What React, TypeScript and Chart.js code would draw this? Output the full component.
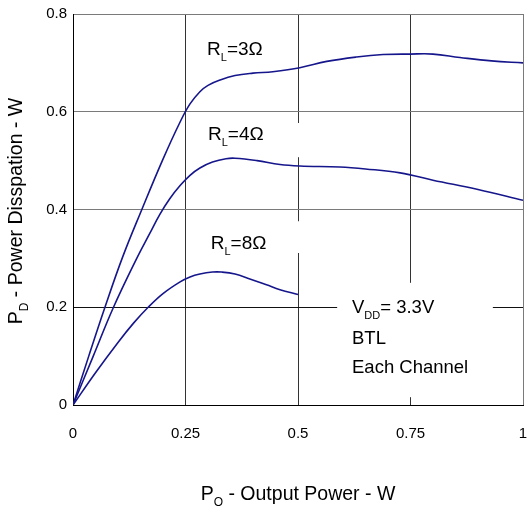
import React, { useEffect, useRef } from "react";
import { Chart, registerables } from "chart.js";

Chart.register(...registerables);

// ---- data ----
const xTickValues = [0, 0.25, 0.5, 0.75, 1];
const xTickLabels = ["0", "0.25", "0.5", "0.75", "1"];
const yTickValues = [0, 0.2, 0.4, 0.6, 0.8];
const yTickLabels = ["0", "0.2", "0.4", "0.6", "0.8"];

const po3 = [0, 0.035, 0.071, 0.11, 0.153, 0.2, 0.238, 0.26, 0.282, 0.3, 0.327, 0.36, 0.4, 0.444, 0.504, 0.564, 0.63, 0.689, 0.749, 0.8, 0.86, 0.93, 1.0];
const pd3 = [0, 0.1, 0.2, 0.302, 0.4, 0.503, 0.579, 0.616, 0.641, 0.654, 0.665, 0.674, 0.679, 0.682, 0.69, 0.703, 0.712, 0.717, 0.718, 0.718, 0.711, 0.704, 0.7];

const po4 = [0, 0.045, 0.089, 0.14, 0.17, 0.193, 0.215, 0.238, 0.26, 0.282, 0.31, 0.34, 0.36, 0.409, 0.46, 0.504, 0.593, 0.65, 0.727, 0.8, 0.9, 1.0];
const pd4 = [0, 0.1, 0.198, 0.297, 0.35, 0.39, 0.422, 0.449, 0.47, 0.485, 0.497, 0.504, 0.505, 0.5, 0.492, 0.489, 0.487, 0.483, 0.475, 0.46, 0.441, 0.419];

const po8 = [0, 0.05, 0.1, 0.135, 0.167, 0.2, 0.238, 0.26, 0.282, 0.31, 0.33, 0.36, 0.393, 0.43, 0.46, 0.5];
const pd8 = [0, 0.066, 0.128, 0.168, 0.2, 0.228, 0.252, 0.262, 0.268, 0.272, 0.272, 0.268, 0.258, 0.246, 0.236, 0.226];

const seriesLabels = ["RL=3Ω", "RL=4Ω", "RL=8Ω"];
const xTitle = [["P", false], ["O", true], [" - Output Power - W", false]] as [string, boolean][];
const yTitle = [["P", false], ["D", true], [" - Power Disspation - W", false]] as [string, boolean][];

const FONT = "'Liberation Sans', Arial, sans-serif";
const LINE = "#16168c";

function toPts(xs: number[], ys: number[]) {
  return xs.map((x, i) => ({ x, y: ys[i] }));
}

function richWidth(ctx: CanvasRenderingContext2D, parts: [string, boolean][], size: number) {
  let w = 0;
  for (const [t, sub] of parts) {
    ctx.font = `${sub ? Math.round(size * 0.6) : size}px ${FONT}`;
    w += ctx.measureText(t).width;
  }
  return w;
}

function drawRich(ctx: CanvasRenderingContext2D, parts: [string, boolean][], x: number, y: number, size: number, align: "left" | "center") {
  const w = richWidth(ctx, parts, size);
  let cx = align === "center" ? x - w / 2 : x;
  ctx.textBaseline = "middle";
  ctx.textAlign = "left";
  ctx.fillStyle = "#000";
  for (const [t, sub] of parts) {
    ctx.font = `${sub ? Math.round(size * 0.6) : size}px ${FONT}`;
    ctx.fillText(t, cx, sub ? y + size * 0.4 : y);
    cx += ctx.measureText(t).width;
  }
}

const decorPlugin = {
  id: "decor",
  beforeDatasetsDraw(chart: any) {
    const { ctx, scales } = chart;
    const xs = scales.x, ys = scales.y;
    const boxes = [
      [0.27, 0.577, 0.53, 0.507],
      [0.27, 0.376, 0.53, 0.311],
      [0.587, 0.25, 0.933, 0.016],
    ];
    ctx.save();
    ctx.fillStyle = "#fff";
    for (const [x0, y0, x1, y1] of boxes) {
      const px0 = xs.getPixelForValue(x0), px1 = xs.getPixelForValue(x1);
      const py0 = ys.getPixelForValue(y0), py1 = ys.getPixelForValue(y1);
      ctx.fillRect(px0, py0, px1 - px0, py1 - py0);
    }
    ctx.restore();
  },
  afterDraw(chart: any) {
    const { ctx, scales } = chart;
    const xs = scales.x, ys = scales.y;
    ctx.save();
    const lab = (n: string): [string, boolean][] => [["R", false], ["L", true], ["=" + n, false]];
    const size = 19;
    drawRich(ctx, lab("3Ω"), xs.getPixelForValue(0.298), ys.getPixelForValue(0.726), size, "left");
    drawRich(ctx, lab("4Ω"), xs.getPixelForValue(0.3), ys.getPixelForValue(0.552), size, "left");
    drawRich(ctx, lab("8Ω"), xs.getPixelForValue(0.306), ys.getPixelForValue(0.329), size, "left");
    const vx = xs.getPixelForValue(0.62);
    drawRich(ctx, [["V", false], ["DD", true], ["= 3.3V", false]], vx, ys.getPixelForValue(0.198), 18.5, "left");
    drawRich(ctx, [["BTL", false]], vx, ys.getPixelForValue(0.135), 18.5, "left");
    drawRich(ctx, [["Each Channel", false]], vx, ys.getPixelForValue(0.076), 18.5, "left");
    // axis titles
    drawRich(ctx, xTitle, (chart.chartArea.left + chart.chartArea.right) / 2, 495, 19.5, "center");
    ctx.save();
    ctx.translate(17, 211);
    ctx.rotate(-Math.PI / 2);
    drawRich(ctx, yTitle, 0, 0, 19.5, "center");
    ctx.restore();
    ctx.restore();
  },
};

export default function App() {
  const ref = useRef<HTMLCanvasElement>(null);
  useEffect(() => {
    if (!ref.current) return;
    const ds = (label: string, xs: number[], ys: number[]) => ({
      label,
      data: toPts(xs, ys),
      borderColor: LINE,
      borderWidth: 1.6,
      pointRadius: 0,
      fill: false,
      tension: 0.4,
    });
    const chart = new Chart(ref.current, {
      type: "line",
      data: {
        datasets: [
          ds(seriesLabels[0], po3, pd3),
          ds(seriesLabels[1], po4, pd4),
          ds(seriesLabels[2], po8, pd8),
        ],
      },
      options: {
        animation: false,
        responsive: false,
        devicePixelRatio: 1,
        layout: { padding: { left: 0, top: 14, right: 4, bottom: 0 } },
        plugins: { legend: { display: false }, tooltip: { enabled: false } },
        scales: {
          x: {
            type: "linear",
            min: 0,
            max: 1,
            afterBuildTicks: (s: any) => { s.ticks = xTickValues.map((v) => ({ value: v })); },
            afterFit: (s: any) => { s.height = 107; s.paddingLeft = 0; s.paddingRight = 0; },
            ticks: {
              padding: 20,
              color: "#000",
              font: { family: FONT, size: 15 },
              maxRotation: 0,
              callback: (v: any) => xTickLabels[xTickValues.indexOf(Number(v))] ?? "",
            },
            grid: {
              drawTicks: false,
              color: (c: any) => {
                const v = c.tick?.value;
                if (v === 1) return "#7a7a7a";
                return "#333";
              },
              lineWidth: 1,
            },
            border: { display: true, color: "#000", width: 1 },
          },
          y: {
            type: "linear",
            min: 0,
            max: 0.8,
            afterBuildTicks: (s: any) => { s.ticks = yTickValues.map((v) => ({ value: v })); },
            afterFit: (s: any) => { s.width = 73; s.paddingTop = 0; s.paddingBottom = 0; },
            ticks: {
              padding: 6,
              color: "#000",
              font: { family: FONT, size: 15 },
              callback: (v: any) => {
                const i = yTickValues.findIndex((t) => Math.abs(t - Number(v)) < 1e-9);
                return i >= 0 ? yTickLabels[i] : "";
              },
            },
            grid: {
              drawTicks: false,
              color: (c: any) => {
                const v = c.tick?.value;
                if (v === 0 || Math.abs(v - 0.2) < 1e-9) return "#111";
                return "#7a7a7a";
              },
              lineWidth: 1,
            },
            border: { display: true, color: "#000", width: 1 },
          },
        },
      },
      plugins: [decorPlugin],
    });
    return () => chart.destroy();
  }, []);
  return (
    <div style={{ position: "absolute", left: 0, top: 0, width: 527, height: 512, background: "#fff" }}>
      <canvas ref={ref} width={527} height={512} style={{ display: "block" }} />
    </div>
  );
}
